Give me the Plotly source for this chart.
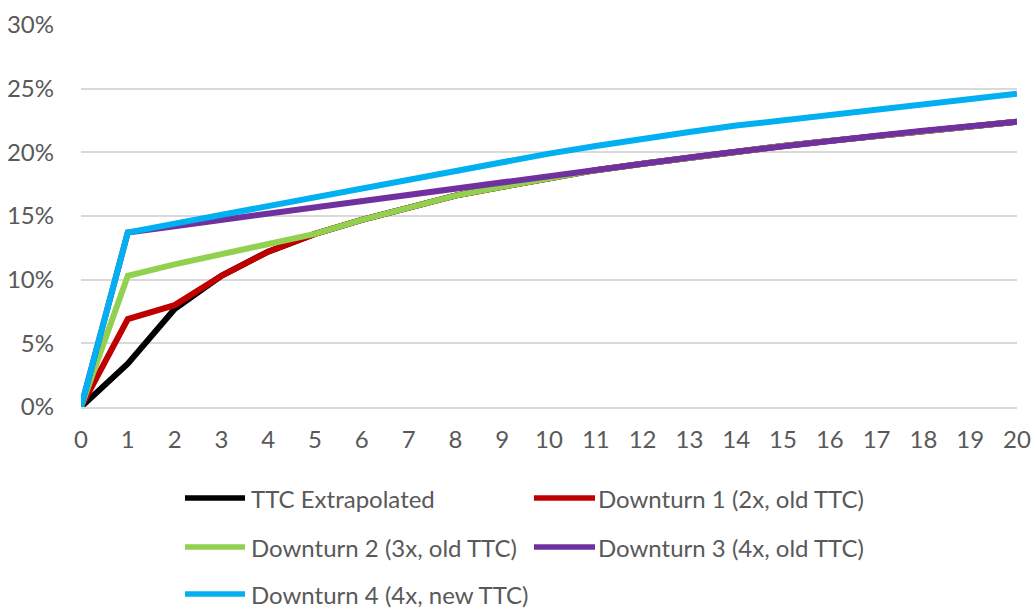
import plotly.graph_objects as go

# Years since origination
years = list(range(21))

# Cumulative default rates (%) per scenario
ttc_extrapolated = [0, 3.4, 7.7, 10.3, 12.2, 13.6, 14.7, 15.7, 16.6, 17.3, 18.0,
                    18.6, 19.1, 19.6, 20.05, 20.5, 20.9, 21.3, 21.7, 22.0, 22.4]
downturn_1 = [0, 6.9, 8.0, 10.3, 12.2, 13.6, 14.7, 15.7, 16.6, 17.3, 18.0,
              18.6, 19.1, 19.6, 20.05, 20.5, 20.9, 21.3, 21.7, 22.0, 22.4]
downturn_2 = [0, 10.3, 11.2, 12.0, 12.8, 13.6, 14.7, 15.7, 16.6, 17.3, 18.0,
              18.6, 19.1, 19.6, 20.05, 20.5, 20.9, 21.3, 21.7, 22.0, 22.4]
downturn_3 = [0, 13.7, 14.2, 14.7, 15.2, 15.7, 16.2, 16.6, 17.1, 17.6, 18.1,
              18.6, 19.1, 19.6, 20.05, 20.5, 20.9, 21.3, 21.7, 22.0, 22.4]
downturn_4 = [0, 13.7, 14.4, 15.1, 15.8, 16.5, 17.2, 17.8, 18.5, 19.2, 19.9,
              20.5, 21.1, 21.6, 22.1, 22.5, 23.0, 23.4, 23.8, 24.2, 24.6]

series_names = ["TTC Extrapolated", "Downturn 1 (2x, old TTC)", "Downturn 2 (3x, old TTC)",
                "Downturn 3 (4x, old TTC)", "Downturn 4 (4x, new TTC)"]
series_values = [ttc_extrapolated, downturn_1, downturn_2, downturn_3, downturn_4]
series_colors = ["#000000", "#C00000", "#92D050", "#7030A0", "#00B0F0"]

FONT = "Lato"
FONT_SIZE = 24
TEXT_COLOR = "#595959"
GRID_COLOR = "#D9D9D9"

fig = go.Figure()
for name, vals, col in zip(series_names, series_values, series_colors):
    fig.add_trace(go.Scatter(
        x=years, y=vals, name=name, mode="lines",
        line=dict(color=col, width=6), showlegend=False,
    ))

# Plot area geometry (pixels) used to place the hand-built legend
W, H = 1034, 610
ml, mr, mt, mb = 81, 17, 25, 203
pw, ph = W - ml - mr, H - mt - mb


def px_to_paper(px, py):
    return (px - ml) / pw, (H - mb - py) / ph


# Legend: two columns, three rows
col_x = [(185, 245, 250), (534, 595, 597)]
row_y = [498, 547, 594]
shapes = []
annotations = []
for i, (name, col) in enumerate(zip(series_names, series_colors)):
    r, c = divmod(i, 2)
    x0, x1, xt = col_x[c]
    y = row_y[r]
    ax0, ay = px_to_paper(x0, y)
    ax1, _ = px_to_paper(x1, y)
    axt, _ = px_to_paper(xt, y)
    shapes.append(dict(type="line", xref="paper", yref="paper", x0=ax0, x1=ax1, y0=ay, y1=ay,
                       line=dict(color=col, width=5.5)))
    annotations.append(dict(xref="paper", yref="paper", x=axt, y=ay, text=name, showarrow=False,
                            xanchor="left", yanchor="middle", borderpad=0,
                            font=dict(family=FONT, size=FONT_SIZE, color=TEXT_COLOR)))

fig.update_layout(
    width=W, height=H,
    margin=dict(l=ml, r=mr, t=mt, b=mb, pad=0, autoexpand=False),
    paper_bgcolor="white", plot_bgcolor="white",
    font=dict(family=FONT, size=FONT_SIZE, color=TEXT_COLOR),
    shapes=shapes, annotations=annotations,
    xaxis=dict(range=[0, 20], dtick=1, tick0=0, showgrid=False, zeroline=False,
               showline=True, linecolor=GRID_COLOR, linewidth=2, automargin=False,
               ticks="", ticklabelstandoff=10,
               tickfont=dict(family=FONT, size=FONT_SIZE, color=TEXT_COLOR)),
    yaxis=dict(range=[0, 30], dtick=5, tick0=0, ticksuffix="%", showgrid=True,
               gridcolor=GRID_COLOR, gridwidth=2, zeroline=False, showline=False,
               automargin=False, ticks="", ticklabelstandoff=26,
               tickfont=dict(family=FONT, size=FONT_SIZE, color=TEXT_COLOR)),
)

fig.write_html("out.html")
